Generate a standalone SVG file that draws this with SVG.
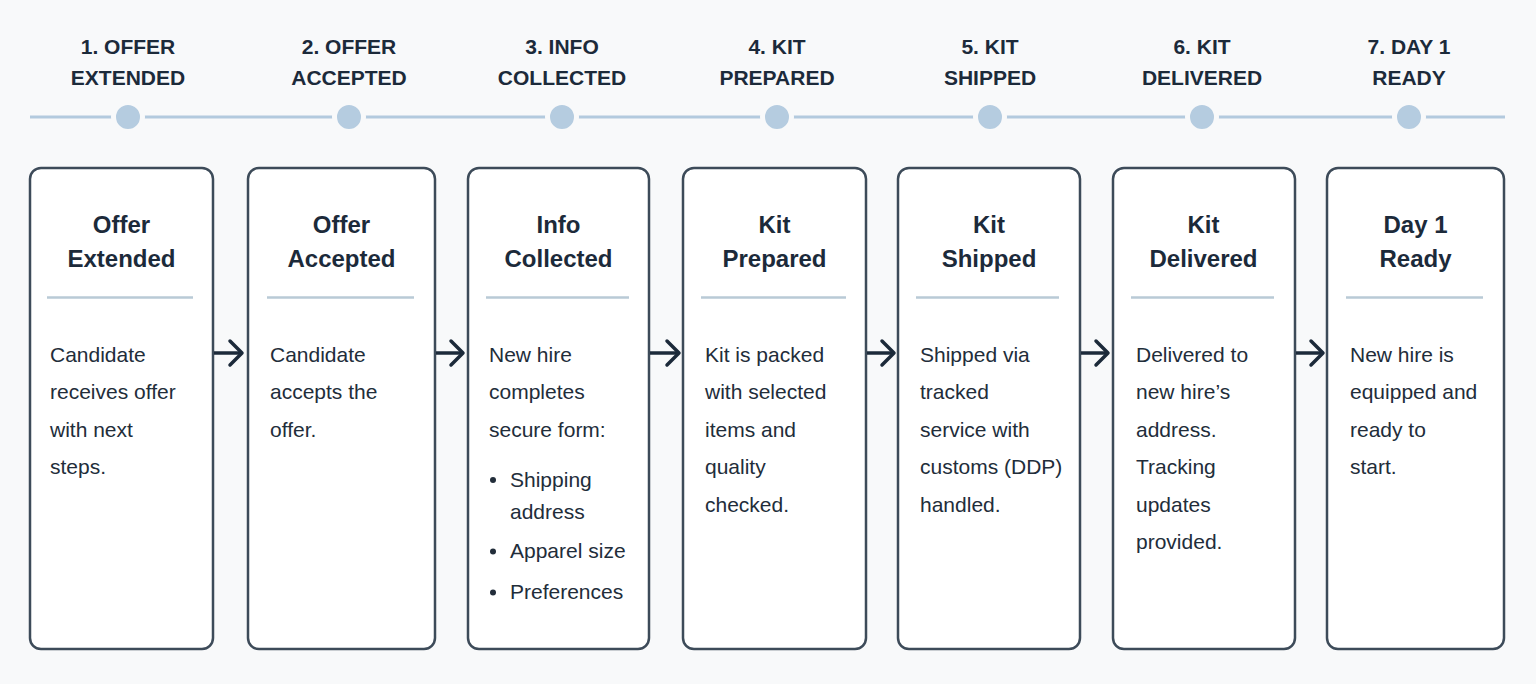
<svg xmlns="http://www.w3.org/2000/svg" width="1536" height="684" viewBox="0 0 1536 684">
<style>
.hdr{font-family:"Liberation Sans",Arial,sans-serif;font-weight:bold;font-size:21px;fill:#1c2a3a;text-anchor:middle}
.ttl{font-family:"Liberation Sans",Arial,sans-serif;font-weight:bold;font-size:24px;fill:#1c2a3a;text-anchor:middle}
.body{font-family:"Liberation Sans",Arial,sans-serif;font-size:21px;fill:#222d3a}
.box{fill:#ffffff;stroke:#3d4b59;stroke-width:2.5}
.div{stroke:#b9cad6;stroke-width:2.5}
.dot{fill:#b5cce0;stroke:#f8f9fa;stroke-width:5}
.conn{stroke:#1c2a3a;stroke-width:3.5;fill:none;marker-end:url(#arr)}
</style>
<defs>
<marker id="arr" markerUnits="userSpaceOnUse" markerWidth="18" markerHeight="30" viewBox="0 0 18 30" refX="15" refY="15" orient="auto">
<path d="M3,3 L15,15 L3,27" fill="none" stroke="#1c2a3a" stroke-width="3.5" stroke-linecap="round" stroke-linejoin="round"/>
</marker>
</defs>
<rect x="0" y="0" width="1536" height="684" fill="#f8f9fa"/>
<g id="timeline">
<line x1="30" y1="117" x2="1505" y2="117" stroke="#b3cade" stroke-width="3"/>
<circle class="dot" cx="128" cy="117" r="14.5"/>
<circle class="dot" cx="349" cy="117" r="14.5"/>
<circle class="dot" cx="562" cy="117" r="14.5"/>
<circle class="dot" cx="777" cy="117" r="14.5"/>
<circle class="dot" cx="990" cy="117" r="14.5"/>
<circle class="dot" cx="1202" cy="117" r="14.5"/>
<circle class="dot" cx="1409" cy="117" r="14.5"/>
<text class="hdr" x="128" y="54">1. OFFER</text><text class="hdr" x="128" y="85">EXTENDED</text>
<text class="hdr" x="349" y="54">2. OFFER</text><text class="hdr" x="349" y="85">ACCEPTED</text>
<text class="hdr" x="562" y="54">3. INFO</text><text class="hdr" x="562" y="85">COLLECTED</text>
<text class="hdr" x="777" y="54">4. KIT</text><text class="hdr" x="777" y="85">PREPARED</text>
<text class="hdr" x="990" y="54">5. KIT</text><text class="hdr" x="990" y="85">SHIPPED</text>
<text class="hdr" x="1202" y="54">6. KIT</text><text class="hdr" x="1202" y="85">DELIVERED</text>
<text class="hdr" x="1409" y="54">7. DAY 1</text><text class="hdr" x="1409" y="85">READY</text>
</g>
<g id="n1">
<rect class="box" x="30" y="168" width="183" height="481" rx="11"/>
<text class="ttl" x="121.5" y="233">Offer</text><text class="ttl" x="121.5" y="267">Extended</text>
<line class="div" x1="47" y1="297.5" x2="193" y2="297.5"/>
<text class="body" x="50" y="361.5">Candidate</text>
<text class="body" x="50" y="399">receives offer</text>
<text class="body" x="50" y="436.5">with next</text>
<text class="body" x="50" y="474">steps.</text>
</g>
<g id="n2">
<rect class="box" x="248" y="168" width="187" height="481" rx="11"/>
<text class="ttl" x="341.5" y="233">Offer</text><text class="ttl" x="341.5" y="267">Accepted</text>
<line class="div" x1="267" y1="297.5" x2="414" y2="297.5"/>
<text class="body" x="270" y="361.5">Candidate</text>
<text class="body" x="270" y="399">accepts the</text>
<text class="body" x="270" y="436.5">offer.</text>
</g>
<g id="n3">
<rect class="box" x="468" y="168" width="181" height="481" rx="11"/>
<text class="ttl" x="558.5" y="233">Info</text><text class="ttl" x="558.5" y="267">Collected</text>
<line class="div" x1="486" y1="297.5" x2="629" y2="297.5"/>
<text class="body" x="489" y="361.5">New hire</text>
<text class="body" x="489" y="399">completes</text>
<text class="body" x="489" y="436.5">secure form:</text>
<circle cx="493" cy="480" r="3" fill="#222d3a"/>
<text class="body" x="510" y="486.5">Shipping</text>
<text class="body" x="510" y="519">address</text>
<circle cx="493" cy="551.5" r="3" fill="#222d3a"/>
<text class="body" x="510" y="558">Apparel size</text>
<circle cx="493" cy="592.5" r="3" fill="#222d3a"/>
<text class="body" x="510" y="599">Preferences</text>
</g>
<g id="n4">
<rect class="box" x="683" y="168" width="183" height="481" rx="11"/>
<text class="ttl" x="774.5" y="233">Kit</text><text class="ttl" x="774.5" y="267">Prepared</text>
<line class="div" x1="701" y1="297.5" x2="846" y2="297.5"/>
<text class="body" x="705" y="361.5">Kit is packed</text>
<text class="body" x="705" y="399">with selected</text>
<text class="body" x="705" y="436.5">items and</text>
<text class="body" x="705" y="474">quality</text>
<text class="body" x="705" y="511.5">checked.</text>
</g>
<g id="n5">
<rect class="box" x="898" y="168" width="182" height="481" rx="11"/>
<text class="ttl" x="989" y="233">Kit</text><text class="ttl" x="989" y="267">Shipped</text>
<line class="div" x1="916" y1="297.5" x2="1059" y2="297.5"/>
<text class="body" x="920" y="361.5">Shipped via</text>
<text class="body" x="920" y="399">tracked</text>
<text class="body" x="920" y="436.5">service with</text>
<text class="body" x="920" y="474">customs (DDP)</text>
<text class="body" x="920" y="511.5">handled.</text>
</g>
<g id="n6">
<rect class="box" x="1113" y="168" width="182" height="481" rx="11"/>
<text class="ttl" x="1203.5" y="233">Kit</text><text class="ttl" x="1203.5" y="267">Delivered</text>
<line class="div" x1="1131" y1="297.5" x2="1274" y2="297.5"/>
<text class="body" x="1136" y="361.5">Delivered to</text>
<text class="body" x="1136" y="399">new hire’s</text>
<text class="body" x="1136" y="436.5">address.</text>
<text class="body" x="1136" y="474">Tracking</text>
<text class="body" x="1136" y="511.5">updates</text>
<text class="body" x="1136" y="549">provided.</text>
</g>
<g id="n7">
<rect class="box" x="1327" y="168" width="177" height="481" rx="11"/>
<text class="ttl" x="1415.5" y="233">Day 1</text><text class="ttl" x="1415.5" y="267">Ready</text>
<line class="div" x1="1346" y1="297.5" x2="1483" y2="297.5"/>
<text class="body" x="1350" y="361.5">New hire is</text>
<text class="body" x="1350" y="399">equipped and</text>
<text class="body" x="1350" y="436.5">ready to</text>
<text class="body" x="1350" y="474">start.</text>
</g>
<g id="connectors">
<line class="conn" x1="214" y1="353" x2="242" y2="353"/>
<line class="conn" x1="436" y1="353" x2="463" y2="353"/>
<line class="conn" x1="650" y1="353" x2="679" y2="353"/>
<line class="conn" x1="867" y1="353" x2="894" y2="353"/>
<line class="conn" x1="1081" y1="353" x2="1108" y2="353"/>
<line class="conn" x1="1296" y1="353" x2="1323" y2="353"/>
</g>
</svg>
